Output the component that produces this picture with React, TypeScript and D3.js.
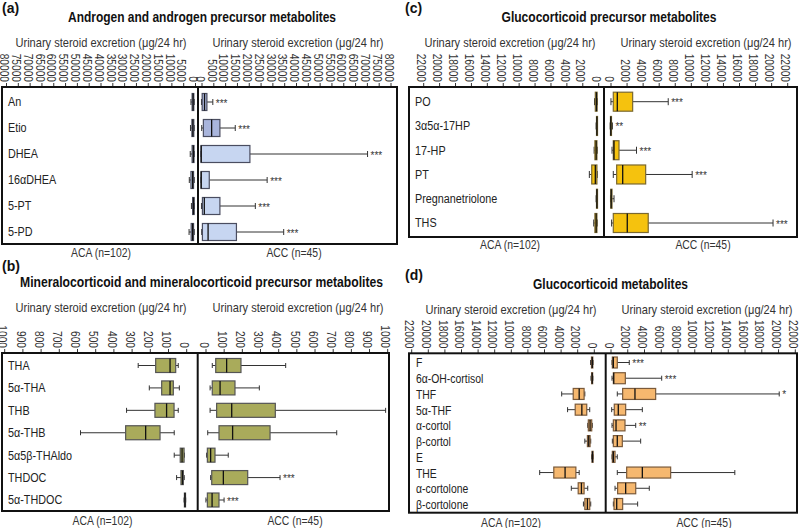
import React from "react";
import * as d3 from "d3";

type Stat = [number, number, number, number, number]; // min, q1, median, q3, max

// ---------- (a) Androgen and androgen precursor metabolites ----------
const androgenRows = ["An", "Etio", "DHEA", "16αDHEA", "5-PT", "5-PD"];
const androgenACA: Stat[] = [
  [100, 300, 600, 1000, 1500],
  [100, 300, 700, 1100, 1700],
  [50, 200, 500, 1000, 1800],
  [100, 400, 800, 1500, 2200],
  [50, 150, 400, 800, 1300],
  [100, 400, 800, 1400, 2300],
];
const androgenACC: Stat[] = [
  [200, 500, 1500, 2500, 5000],
  [300, 1000, 4500, 8000, 14500],
  [0, 0, 100, 20700, 70500],
  [0, 0, 100, 3500, 28000],
  [200, 600, 1400, 8000, 23000],
  [300, 600, 3000, 15000, 35000],
];
const androgenStars = ["***", "***", "***", "***", "***", "***"];
const androgenTicks = [0, 5000, 10000, 15000, 20000, 25000, 30000, 35000, 40000, 45000, 50000, 55000, 60000, 65000, 70000, 75000, 80000];
const androgenFills = ["#a9b5dc", "#a9b5dc", "#c7d6f1", "#c7d6f1", "#c7d6f1", "#c7d6f1"];

// ---------- (b) Mineralocorticoid ----------
const mineraloRows = ["THA", "5α-THA", "THB", "5α-THB", "5α5β-THAldo", "THDOC", "5α-THDOC"];
const mineraloACA: Stat[] = [
  [41, 55, 86, 165, 261],
  [35, 68, 86, 132, 200],
  [41, 64, 105, 169, 325],
  [63, 141, 220, 330, 578],
  [7, 9, 20, 30, 63],
  [8, 13, 18, 26, 50],
  [0, 1, 4, 7, 9],
];
const mineraloACC: Stat[] = [
  [40, 59, 119, 198, 444],
  [28, 40, 83, 165, 299],
  [28, 64, 147, 387, 994],
  [15, 77, 152, 358, 725],
  [9, 13, 31, 55, 128],
  [31, 37, 101, 235, 413],
  [5, 13, 39, 77, 105],
];
const mineraloStars = ["", "", "", "", "", "***", "***"];
const mineraloTicks = [0, 100, 200, 300, 400, 500, 600, 700, 800, 900, 1000];

// ---------- (c) Glucocorticoid precursor ----------
const precursorRows = ["PO", "3α5α-17HP", "17-HP", "PT", "Pregnanetriolone", "THS"];
const precursorACA: Stat[] = [
  [50, 80, 150, 300, 400],
  [40, 60, 100, 150, 200],
  [50, 100, 200, 350, 450],
  [50, 100, 300, 750, 1050],
  [40, 60, 100, 150, 200],
  [60, 100, 200, 350, 500],
];
const precursorACC: Stat[] = [
  [120, 410, 910, 2820, 7250],
  [20, 60, 100, 180, 300],
  [250, 410, 500, 1120, 3300],
  [410, 830, 1580, 4440, 10230],
  [60, 100, 150, 250, 500],
  [200, 410, 2150, 4760, 20300],
];
const precursorStars = ["***", "**", "***", "***", "", "***"];
const glucoTicks = [0, 2000, 4000, 6000, 8000, 10000, 12000, 14000, 16000, 18000, 20000, 22000];

// ---------- (d) Glucocorticoid metabolites ----------
const glucoRows = ["F", "6α-OH-cortisol", "THF", "5α-THF", "α-cortol", "β-cortol", "E", "THE", "α-cortolone", "β-cortolone"];
const glucoACA: Stat[] = [
  [30, 60, 120, 220, 330],
  [50, 80, 130, 200, 280],
  [1020, 1110, 1700, 2420, 3810],
  [430, 790, 1380, 2180, 3100],
  [120, 190, 390, 600, 670],
  [310, 390, 550, 710, 1020],
  [20, 50, 100, 150, 200],
  [1700, 2100, 3400, 4760, 6460],
  [670, 1110, 1430, 1820, 2650],
  [310, 430, 710, 1020, 1190],
];
const glucoACC: Stat[] = [
  [240, 280, 400, 870, 2300],
  [240, 400, 450, 1830, 6170],
  [870, 1510, 2980, 5450, 20200],
  [200, 510, 990, 1870, 3860],
  [240, 400, 720, 1790, 3070],
  [280, 400, 870, 1470, 3660],
  [240, 280, 400, 600, 870],
  [870, 1990, 3860, 7240, 14900],
  [600, 910, 1870, 3070, 4690],
  [400, 480, 800, 1510, 3300],
];
const glucoStars = ["***", "***", "*", "", "**", "", "", "", "", ""];

const groupLabels = ["ACA (n=102)", "ACC (n=45)"];
const axisTitle = "Urinary steroid excretion (μg/24 hr)";

const FONT = "'Liberation Sans', Arial, sans-serif";
const K = 0.8; // horizontal condensing to mimic a condensed face

interface Cfg {
  tag: string; tagX: number; tagY: number;
  title: string; titleX: number; titleY: number; titleW: number;
  axisTitleY: number; leftTitleX: number; rightTitleX: number;
  x0: number; x1: number; y0: number; y1: number; divider: number;
  leftRange: [number, number]; rightRange: [number, number]; maxV: number;
  rowRange: [number, number]; boxH: number; capH: number;
  labelX: number; labelSize: number; bottomY: number; acaX: number; accX: number;
  fills: string[]; stroke: string;
}

function T({ x, y, rot = 0, k = K, children, ...rest }: any) {
  return (
    <text transform={`translate(${x},${y}) rotate(${rot}) scale(${k},1)`} {...rest}>
      {children}
    </text>
  );
}

function BoxRow({ s, scale, cy, h, capH, fill, stroke }: any) {
  const [mn, q1, md, q3, mx] = s.map((v: number) => scale(v));
  const lo = Math.min(q1, q3), hi = Math.max(q1, q3);
  const wc = "#333";
  return (
    <g>
      <line x1={mn} x2={q1} y1={cy} y2={cy} stroke={wc} strokeWidth={1} />
      <line x1={q3} x2={mx} y1={cy} y2={cy} stroke={wc} strokeWidth={1} />
      <line x1={mn} x2={mn} y1={cy - capH / 2} y2={cy + capH / 2} stroke={wc} strokeWidth={1} />
      <line x1={mx} x2={mx} y1={cy - capH / 2} y2={cy + capH / 2} stroke={wc} strokeWidth={1} />
      <rect x={lo} y={cy - h / 2} width={Math.max(hi - lo, 1)} height={h} fill={fill} stroke={stroke} strokeWidth={1.2} />
      <line x1={md} x2={md} y1={cy - h / 2} y2={cy + h / 2} stroke="#111" strokeWidth={1.3} />
    </g>
  );
}

function Panel({ cfg, rows, aca, acc, stars, ticks }: { cfg: Cfg; rows: string[]; aca: Stat[]; acc: Stat[]; stars: string[]; ticks: number[] }) {
  const left = d3.scaleLinear().domain([0, cfg.maxV]).range(cfg.leftRange);
  const right = d3.scaleLinear().domain([0, cfg.maxV]).range(cfg.rightRange);
  const y = d3.scalePoint<string>().domain(rows).range(cfg.rowRange);
  return (
    <g fontFamily={FONT}>
      <text x={cfg.tagX} y={cfg.tagY} fontSize={14} fontWeight="bold" fill="#111">{cfg.tag}</text>
      <text x={cfg.titleX} y={cfg.titleY} fontSize={15.5} fontWeight="bold" textAnchor="middle" fill="#111"
        textLength={cfg.titleW} lengthAdjust="spacingAndGlyphs">{cfg.title}</text>
      <text x={cfg.leftTitleX} y={cfg.axisTitleY} fontSize={13} textAnchor="middle" fill="#333"
        textLength={171} lengthAdjust="spacingAndGlyphs">{axisTitle}</text>
      <text x={cfg.rightTitleX} y={cfg.axisTitleY} fontSize={13} textAnchor="middle" fill="#333"
        textLength={171} lengthAdjust="spacingAndGlyphs">{axisTitle}</text>
      {[left, right].map((sc, si) => (
        <g key={si}>
          {ticks.map((t) => (
            <g key={t}>
              <line x1={sc(t) + 1} x2={sc(t) + 1} y1={cfg.y0} y2={cfg.y0 - 4} stroke="#333" strokeWidth={1} />
              <T x={sc(t) - 1} y={cfg.y0 - 5} rot={90} k={0.85} fontSize={12} textAnchor="end" dominantBaseline="central" fill="#333">{String(t)}</T>
            </g>
          ))}
        </g>
      ))}
      <rect x={cfg.x0} y={cfg.y0} width={cfg.x1 - cfg.x0} height={cfg.y1 - cfg.y0} fill="#fff" stroke="#111" strokeWidth={2} />
      <line x1={cfg.divider} x2={cfg.divider} y1={cfg.y0} y2={cfg.y1} stroke="#111" strokeWidth={2} />
      {rows.map((r, i) => {
        const cy = y(r) as number;
        const fill = cfg.fills[i % cfg.fills.length];
        return (
          <g key={r}>
            <T x={cfg.labelX} y={cy} fontSize={cfg.labelSize} dominantBaseline="central" fill="#222">{r}</T>
            <BoxRow s={aca[i]} scale={left} cy={cy} h={cfg.boxH} capH={cfg.capH} fill={fill} stroke={cfg.stroke} />
            <BoxRow s={acc[i]} scale={right} cy={cy} h={cfg.boxH} capH={cfg.capH} fill={fill} stroke={cfg.stroke} />
            {stars[i] && (
              <text x={right(acc[i][4]) + 3} y={cy + 4.5} fontSize={10} fill="#333">{stars[i]}</text>
            )}
          </g>
        );
      })}
      <T x={cfg.acaX} y={cfg.bottomY} fontSize={13} textAnchor="middle" fill="#333">{groupLabels[0]}</T>
      <T x={cfg.accX} y={cfg.bottomY} fontSize={13} textAnchor="middle" fill="#333">{groupLabels[1]}</T>
    </g>
  );
}

const cfgA: Cfg = {
  tag: "(a)", tagX: 2, tagY: 13, title: "Androgen and androgen precursor metabolites", titleX: 202, titleY: 22, titleW: 268,
  axisTitleY: 47, leftTitleX: 101, rightTitleX: 298,
  x0: 2, x1: 397, y0: 87, y1: 244, divider: 198,
  leftRange: [194.5, 5.5], rightRange: [201, 390], maxV: 80000,
  rowRange: [102, 232], boxH: 17, capH: 6, labelX: 8, labelSize: 13.5, bottomY: 257, acaX: 101, accX: 294,
  fills: androgenFills, stroke: "#4a4d60",
};
const cfgB: Cfg = {
  tag: "(b)", tagX: 2, tagY: 271, title: "Mineralocorticoid and mineralocorticoid precursor metabolites", titleX: 201.5, titleY: 287, titleW: 363,
  axisTitleY: 312, leftTitleX: 101, rightTitleX: 298,
  x0: 2, x1: 389, y0: 353, y1: 511, divider: 197.7,
  leftRange: [185.7, 3.7], rightRange: [205, 386.7], maxV: 1000,
  rowRange: [365.5, 500], boxH: 14, capH: 5, labelX: 8, labelSize: 13.5, bottomY: 524.5, acaX: 102.5, accX: 295,
  fills: ["#a9ab5b"], stroke: "#555",
};
const cfgC: Cfg = {
  tag: "(c)", tagX: 405, tagY: 13, title: "Glucocorticoid precursor metabolites", titleX: 609, titleY: 22, titleW: 215,
  axisTitleY: 47, leftTitleX: 510, rightTitleX: 706,
  x0: 409, x1: 797, y0: 87, y1: 237, divider: 604,
  leftRange: [597.7, 422.7], rightRange: [610, 786.7], maxV: 22000,
  rowRange: [101.7, 223], boxH: 19, capH: 7, labelX: 415, labelSize: 13.5, bottomY: 248.5, acaX: 510, accX: 703,
  fills: ["#f5c20e"], stroke: "#7a6830",
};
const cfgD: Cfg = {
  tag: "(d)", tagX: 405, tagY: 280, title: "Glucocorticoid metabolites", titleX: 610.5, titleY: 288.5, titleW: 155,
  axisTitleY: 313.5, leftTitleX: 511, rightTitleX: 707,
  x0: 409, x1: 797, y0: 353.3, y1: 512.7, divider: 605.7,
  leftRange: [593.3, 410.7], rightRange: [610, 794.3], maxV: 22000,
  rowRange: [362.5, 504], boxH: 11, capH: 5, labelX: 416, labelSize: 13, bottomY: 526.5, acaX: 511, accX: 704,
  fills: ["#f6b86f"], stroke: "#7b5a3a",
};

export default function App() {
  return (
    <svg width={800} height={528} style={{ position: "absolute", left: 0, top: 0, background: "#fff" }}>
      <rect width={800} height={528} fill="#fff" />
      <Panel cfg={cfgA} rows={androgenRows} aca={androgenACA} acc={androgenACC} stars={androgenStars} ticks={androgenTicks} />
      <Panel cfg={cfgB} rows={mineraloRows} aca={mineraloACA} acc={mineraloACC} stars={mineraloStars} ticks={mineraloTicks} />
      <Panel cfg={cfgC} rows={precursorRows} aca={precursorACA} acc={precursorACC} stars={precursorStars} ticks={glucoTicks} />
      <Panel cfg={cfgD} rows={glucoRows} aca={glucoACA} acc={glucoACC} stars={glucoStars} ticks={glucoTicks} />
    </svg>
  );
}
